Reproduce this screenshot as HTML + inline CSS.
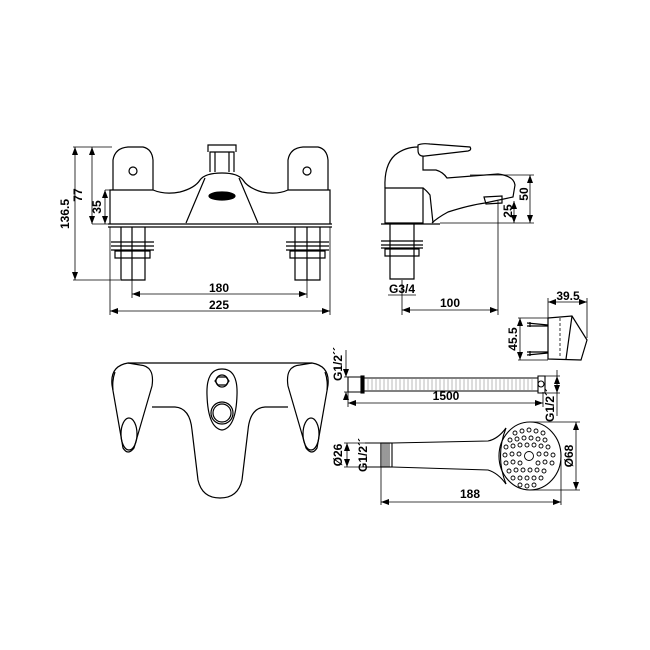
<!DOCTYPE html>
<html><head><style>
html,body{margin:0;padding:0;background:#fff}
svg{display:block}
text{font-family:"Liberation Sans",Arial,sans-serif;font-weight:bold;font-size:12px;fill:#000}
</style></head><body>
<svg width="650" height="650" viewBox="0 0 650 650" xmlns="http://www.w3.org/2000/svg">
<defs>
<marker id="a" markerWidth="8" markerHeight="6" refX="8" refY="3" orient="auto-start-reverse" markerUnits="userSpaceOnUse"><path d="M0,0 L8,3 L0,6z" fill="#000"/></marker>
</defs>
<g fill="none" stroke="#000" stroke-width="1.2">
<path d="M113,190 L113,160 Q115,148 128,147 L143,147 Q152,149 153,160 L153,190"/>
<path d="M288,190 L288,160 Q290,148 303,147 L318,147 Q327,149 328,160 L328,190"/>
<circle cx="133" cy="171" r="4"/><circle cx="307" cy="171" r="4"/>
<path d="M110,224 L110,190 L153,190 Q165,195 180,192 Q195,188 200,180 Q205,173 222,173 Q238,173 243,180 Q248,188 262,192 Q277,195 288,190 L330,190 L330,224"/>
<path d="M108,224 L332,224 M108,227 L332,227"/>
<path d="M186,223 L205,178 M258,223 L239,178"/>
<ellipse cx="222" cy="196" rx="13" ry="4" fill="#000"/>
<path d="M210,172 L210,152 L234,152 L234,172 M208,152 L208,145 L236,145 L236,152"/>
<path d="M215,152 L215,172 M229,152 L229,172"/>
<path d="M121,227 L121,280 L145,280 L145,227 M132,227 L132,280"/>
<path d="M111,242 L154,242 M111,246 L154,246 M111,250 L154,250 M115,251 L150,251 L150,258 L115,258 Z"/>
<path d="M295,227 L295,280 L320,280 L320,227 M307,227 L307,280"/>
<path d="M286,242 L329,242 M286,246 L329,246 M286,250 L329,250 M290,251 L325,251 L325,258 L290,258 Z"/>
</g>
<g stroke="#000" stroke-width="0.8" fill="none">
<path d="M73,147 L112,147 M73,280 L120,280 M92,224 L108,224 M105,190 L112,190"/>
<line x1="75" y1="147" x2="75" y2="280" marker-start="url(#a)" marker-end="url(#a)"/>
<line x1="92" y1="147" x2="92" y2="224" marker-start="url(#a)" marker-end="url(#a)"/>
<line x1="105" y1="190" x2="105" y2="224" marker-start="url(#a)" marker-end="url(#a)"/>
<path d="M132,280 L132,298 M307,280 L307,298 M110,227 L110,315 M330,227 L330,315"/>
<line x1="132" y1="294" x2="307" y2="294" marker-start="url(#a)" marker-end="url(#a)"/>
<line x1="110" y1="311" x2="330" y2="311" marker-start="url(#a)" marker-end="url(#a)"/>
</g>
<text x="82" y="195" transform="rotate(-90 82 195)" text-anchor="middle">77</text>
<text x="101" y="207" transform="rotate(-90 101 207)" text-anchor="middle">35</text>
<text x="69" y="214" transform="rotate(-90 69 214)" text-anchor="middle">136.5</text>
<text x="219" y="292" text-anchor="middle">180</text>
<text x="219" y="309" text-anchor="middle">225</text>

<g fill="none" stroke="#000" stroke-width="1.2">
<path d="M418,150 L418,145 Q422,143 430,144 L470,147 Q472,150 468,151 L425,156 Q418,157 418,150"/>
<path d="M423,156 L423,170 L436,170 Q443,172 447,178 L498,174 Q514,176 515,185 L513,197 L485,203 Q470,205 448,212 Q437,218 432,223"/>
<path d="M385,188 Q384,165 395,155 Q405,147 418,147"/>
<path d="M385,188 L423,188 L423,223 L385,223 Z"/>
<path d="M423,188 Q426,190 430,195 L433,223"/>
<path d="M484,197 L502,196 L502,203 L486,204 Z"/>
<path d="M381,224 L440,224"/>
<path d="M390,224 L390,279 L414,279 L414,224"/>
<path d="M381,241 L423,241 M381,245 L423,245 M381,248 L423,248 M385,249 L419,249 L419,256 L385,256 Z"/>
</g>
<g stroke="#000" stroke-width="0.8" fill="none">
<path d="M470,175 L534,175 M440,223 L534,223 M498,201 L498,315 M402,280 L402,315"/>
<line x1="530" y1="175" x2="530" y2="223" marker-start="url(#a)" marker-end="url(#a)"/>
<line x1="514" y1="201" x2="514" y2="223" marker-start="url(#a)" marker-end="url(#a)"/>
<line x1="402" y1="310" x2="498" y2="310" marker-start="url(#a)" marker-end="url(#a)"/>
<path d="M388,295 L416,295"/>
</g>
<text x="528" y="194" transform="rotate(-90 528 194)" text-anchor="middle">50</text>
<text x="512" y="211" transform="rotate(-90 512 211)" text-anchor="middle">25</text>
<text x="402" y="293" text-anchor="middle">G3/4</text>
<text x="450" y="307" text-anchor="middle">100</text>

<g fill="none" stroke="#000" stroke-width="1.2">
<path d="M548,318 L572,316 L587,340 L581,360 L548,359 Z M572,316 L566,359"/>
<path d="M527,323 L548,325 M527,326 L548,326 M527,352 L548,352 M527,355 L548,353 M530,322 L530,327 M530,351 L530,356"/>
</g>
<path d="M560,318 L560,358" stroke="#000" stroke-width="0.8" stroke-dasharray="3,2"/>
<g stroke="#000" stroke-width="0.8" fill="none">
<path d="M548,298 L548,318 M587,298 L587,338 M518,318 L548,318 M518,360 L548,360"/>
<line x1="548" y1="302" x2="587" y2="302" marker-start="url(#a)" marker-end="url(#a)"/>
<line x1="520" y1="318" x2="520" y2="360" marker-start="url(#a)" marker-end="url(#a)"/>
</g>
<text x="568" y="300" text-anchor="middle">39.5</text>
<text x="517" y="339" transform="rotate(-90 517 339)" text-anchor="middle">45.5</text>

<g fill="none" stroke="#000" stroke-width="1.2">
<path d="M128,363 L312,363"/>
<path d="M128,363 Q110,366 112,385 L123,448 Q128,456 134,448 L152,386 Q155,366 140,365 Z"/>
<path d="M115,372 Q112,380 113,390"/>
<ellipse cx="129" cy="434" rx="8" ry="16"/>
<path d="M312,363 Q330,366 328,385 L317,448 Q312,456 306,448 L288,386 Q285,366 300,365 Z"/>
<path d="M325,372 Q328,380 327,390"/>
<ellipse cx="311" cy="434" rx="8" ry="16"/>
<path d="M152,407 L175,407 Q190,408 192,430 L198,480 Q202,498 220,498 Q238,498 242,480 L248,430 Q250,408 265,407 L288,407"/>
<path d="M222,369 Q238,369 237,395 Q236,428 222,430 Q208,428 207,395 Q206,369 222,369 Z"/>
<circle cx="222" cy="413" r="11"/><circle cx="222" cy="413" r="9"/>
<circle cx="222" cy="381" r="6"/>
<path d="M218,377 L226,377 L229,381 L226,385 L218,385 L215,381 Z"/>
</g>

<g fill="none" stroke="#000" stroke-width="1.1">
<path d="M348,377 L362,377 L362,392 L348,392 Z"/>
<rect x="361" y="376" width="3" height="17" fill="#000"/>
<path d="M364,378 L538,378 M364,391 L538,391"/>
<path d="M538,376 L545,376 L545,393 L538,393 Z"/>
<circle cx="541" cy="384" r="3"/>
</g>
<g stroke="#777" stroke-width="0.5">
<path d="M368,379 l0,11 M372,379 l0,11 M376,379 l0,11 M380,379 l0,11 M384,379 l0,11 M388,379 l0,11 M392,379 l0,11 M396,379 l0,11 M400,379 l0,11 M404,379 l0,11 M408,379 l0,11 M412,379 l0,11 M416,379 l0,11 M420,379 l0,11 M424,379 l0,11 M428,379 l0,11 M432,379 l0,11 M436,379 l0,11 M440,379 l0,11 M444,379 l0,11 M448,379 l0,11 M452,379 l0,11 M456,379 l0,11 M460,379 l0,11 M464,379 l0,11 M468,379 l0,11 M472,379 l0,11 M476,379 l0,11 M480,379 l0,11 M484,379 l0,11 M488,379 l0,11 M492,379 l0,11 M496,379 l0,11 M500,379 l0,11 M504,379 l0,11 M508,379 l0,11 M512,379 l0,11 M516,379 l0,11 M520,379 l0,11 M524,379 l0,11 M528,379 l0,11 M532,379 l0,11"/>
</g>
<g stroke="#000" stroke-width="0.8" fill="none">
<path d="M348,377 L344,377 M348,392 L344,392 M348,392 L348,407 M543,392 L543,407 M545,376 L560,376 M545,393 L560,393"/>
<line x1="346" y1="350" x2="346" y2="377" marker-end="url(#a)"/>
<line x1="346" y1="400" x2="346" y2="392" marker-end="url(#a)"/>
<line x1="348" y1="403" x2="543" y2="403" marker-start="url(#a)" marker-end="url(#a)"/>
<line x1="557" y1="370" x2="557" y2="376" />
<line x1="557" y1="376" x2="557" y2="393" marker-start="url(#a)" marker-end="url(#a)"/>
<line x1="557" y1="393" x2="557" y2="416"/>
</g>
<text x="342" y="364" transform="rotate(-90 342 364)" text-anchor="middle" font-size="11">G1/2´´</text>
<text x="446" y="400" text-anchor="middle">1500</text>
<text x="554" y="405" transform="rotate(-90 554 405)" text-anchor="middle" font-size="11">G1/2´´</text>

<g fill="none" stroke="#000" stroke-width="1.1">
<path d="M365,443 L381,443 L381,467 L365,467"/>
<rect x="381" y="443" width="11" height="24" fill="#fff"/>
<path d="M383,443 l0,24 M385,443 l0,24 M387,443 l0,24 M389,443 l0,24" stroke-width="0.8"/>
<path d="M392,443 L488,441 Q498,439 506,428 M392,467 L488,470 Q498,473 506,484"/>
<ellipse cx="530" cy="456" rx="31" ry="34"/>
<path d="M506,428 Q495,456 506,484"/>
</g>
<g fill="none" stroke="#000" stroke-width="0.9">
<circle cx="529" cy="456" r="4.5"/>
<circle cx="515" cy="433" r="2"/><circle cx="522" cy="431" r="2"/><circle cx="529" cy="430" r="2"/><circle cx="536" cy="431" r="2"/><circle cx="543" cy="433" r="2"/>
<circle cx="510" cy="440" r="2"/><circle cx="517" cy="439" r="2"/><circle cx="524" cy="438" r="2"/><circle cx="531" cy="438" r="2"/><circle cx="538" cy="439" r="2"/><circle cx="545" cy="440" r="2"/>
<circle cx="506" cy="447" r="2"/><circle cx="513" cy="446" r="2"/><circle cx="520" cy="445" r="2"/><circle cx="527" cy="445" r="2"/><circle cx="534" cy="445" r="2"/><circle cx="541" cy="446" r="2"/><circle cx="548" cy="447" r="2"/>
<circle cx="505" cy="455" r="2"/><circle cx="512" cy="454" r="2"/><circle cx="519" cy="454" r="2"/><circle cx="539" cy="454" r="2"/><circle cx="546" cy="454" r="2"/><circle cx="553" cy="455" r="2"/>
<circle cx="506" cy="463" r="2"/><circle cx="513" cy="462" r="2"/><circle cx="520" cy="463" r="2"/><circle cx="538" cy="463" r="2"/><circle cx="545" cy="462" r="2"/><circle cx="552" cy="463" r="2"/>
<circle cx="509" cy="471" r="2"/><circle cx="516" cy="470" r="2"/><circle cx="523" cy="470" r="2"/><circle cx="530" cy="470" r="2"/><circle cx="537" cy="470" r="2"/><circle cx="544" cy="471" r="2"/>
<circle cx="513" cy="478" r="2"/><circle cx="520" cy="478" r="2"/><circle cx="527" cy="478" r="2"/><circle cx="534" cy="478" r="2"/><circle cx="541" cy="478" r="2"/>
<circle cx="520" cy="485" r="2"/><circle cx="527" cy="486" r="2"/><circle cx="534" cy="485" r="2"/>
</g>
<g stroke="#000" stroke-width="0.8" fill="none">
<path d="M344,443 L365,443 M344,467 L365,467 M530,422 L580,422 M530,490 L580,490 M381,467 L381,505 M561,460 L561,505"/>
<line x1="347" y1="443" x2="347" y2="467" marker-start="url(#a)" marker-end="url(#a)"/>
<line x1="576" y1="422" x2="576" y2="490" marker-start="url(#a)" marker-end="url(#a)"/>
<line x1="381" y1="502" x2="561" y2="502" marker-start="url(#a)" marker-end="url(#a)"/>
</g>
<text x="342" y="455" transform="rotate(-90 342 455)" text-anchor="middle">Ø26</text>
<text x="367" y="455" transform="rotate(-90 367 455)" text-anchor="middle" font-size="11">G1/2´´</text>
<text x="573" y="456" transform="rotate(-90 573 456)" text-anchor="middle">Ø68</text>
<text x="470" y="498" text-anchor="middle">188</text>
</svg>
</body></html>
